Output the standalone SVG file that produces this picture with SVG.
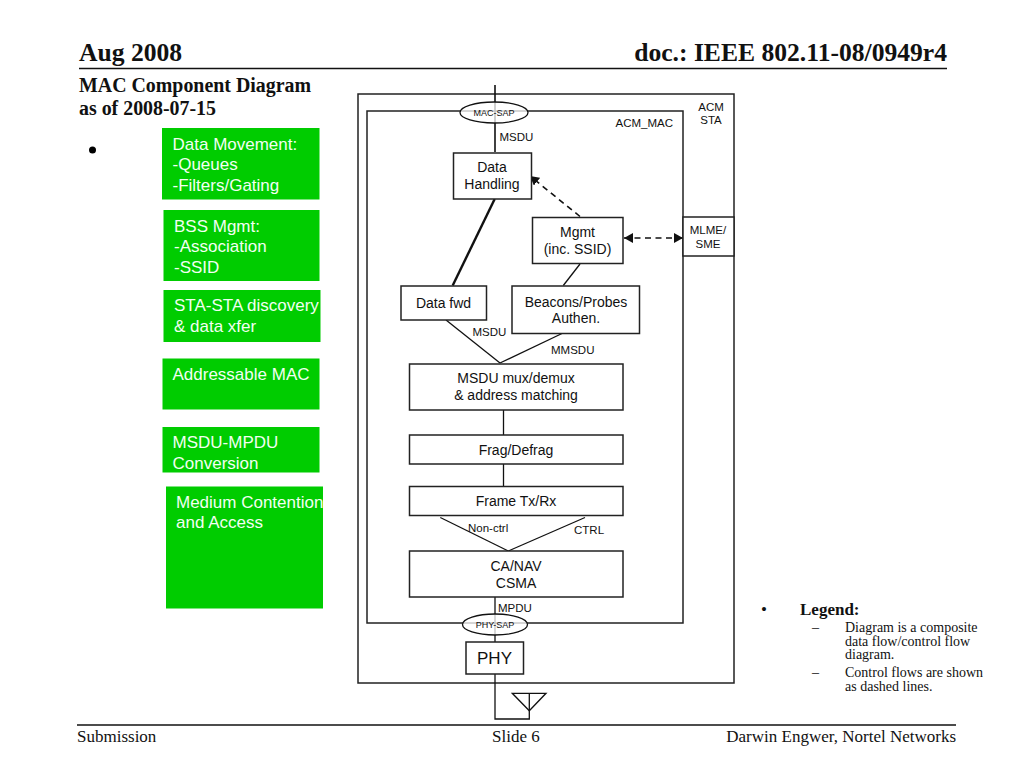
<svg xmlns="http://www.w3.org/2000/svg" width="1024" height="768" viewBox="0 0 1024 768">
<style>
text{font-family:"Liberation Sans",Arial,sans-serif;fill:#111}
.s{font-family:"Liberation Serif","Times New Roman",serif}
.b{font-weight:bold}
.box{fill:#fff;stroke:#222;stroke-width:1.5}
.frame{fill:none;stroke:#222;stroke-width:1.5}
.g{fill:#00cc00}
.gt{fill:#f2fff2;font-size:17px}
.m{text-anchor:middle;font-size:14px}
.l{font-size:11.5px}
.ln{fill:none;stroke:#111;stroke-width:1.3}
.d{stroke-dasharray:6 4.5;stroke-width:1.6}
.sap{fill:#fff;fill-opacity:.75;stroke:#111;stroke-width:1.3}
</style>
<defs>
<marker id="a" markerWidth="10" markerHeight="10" refX="9" refY="5" orient="auto-start-reverse" markerUnits="userSpaceOnUse"><path d="M0 0L9 5L0 10Z" fill="#111"/></marker>
</defs>
<rect width="1024" height="768" fill="#fff"/>
<g id="header">
<text class="s b" x="79" y="61" font-size="25.600">Aug 2008</text>
<text class="s b" x="947" y="61" font-size="25.600" text-anchor="end">doc.: IEEE 802.11-08/0949r4</text>
<line x1="79" y1="68.500" x2="947" y2="68.500" stroke="#111" stroke-width="1.500"/>
<text class="s b" x="79" y="92" font-size="19.900">MAC Component Diagram</text>
<text class="s b" x="79" y="115" font-size="19.900">as of 2008-07-15</text>
<circle cx="92.500" cy="150" r="3.500" fill="#000"/>
</g>
<g id="green-data"><rect class="g" x="162" y="128" width="157.500" height="71.500"/><text class="gt" x="172.500" y="150">Data Movement:</text><text class="gt" x="172.500" y="170">-Queues</text><text class="gt" x="172.500" y="190.500">-Filters/Gating</text></g>
<g id="green-bss"><rect class="g" x="163.500" y="210" width="156" height="71"/><text class="gt" x="174" y="232">BSS Mgmt:</text><text class="gt" x="174" y="252">-Association</text><text class="gt" x="174" y="272.500">-SSID</text></g>
<g id="green-sta"><rect class="g" x="163.500" y="290" width="157" height="52"/><text class="gt" x="174" y="311">STA-STA discovery</text><text class="gt" x="174" y="332">&amp; data xfer</text></g>
<g id="green-addr"><rect class="g" x="162.500" y="358.500" width="157" height="51"/><text class="gt" x="172.500" y="380">Addressable MAC</text></g>
<g id="green-msdu"><rect class="g" x="162.500" y="427" width="157" height="45.500"/><text class="gt" x="172.500" y="448">MSDU-MPDU</text><text class="gt" x="172.500" y="468.500">Conversion</text></g>
<g id="green-medium"><rect class="g" x="166" y="486.500" width="157" height="122"/><text class="gt" x="176" y="507.500">Medium Contention</text><text class="gt" x="176" y="528">and Access</text></g>
<g id="acm-sta"><rect class="frame" x="358" y="94" width="376" height="589"/><text class="l" x="711" y="111" text-anchor="middle">ACM</text><text class="l" x="711" y="124" text-anchor="middle">STA</text></g>
<g id="acm-mac"><rect class="frame" x="367" y="111" width="316" height="512"/><text class="l" x="615.500" y="127">ACM_MAC</text></g>
<g id="connectors">
<line class="ln" x1="495" y1="85" x2="495" y2="152" style="stroke-width:1.600"/>
<line class="ln" x1="494.700" y1="199" x2="452.700" y2="285.500" style="stroke-width:2.400"/>
<line class="ln d" x1="580" y1="216.500" x2="530" y2="176" marker-end="url(#a)"/>
<line class="ln d" x1="624" y1="238" x2="683" y2="238" marker-start="url(#a)" marker-end="url(#a)"/>
<line class="ln" x1="580" y1="264" x2="563.300" y2="285.500"/>
<line class="ln" x1="446" y1="320" x2="500" y2="363"/>
<line class="ln" x1="562" y1="333.500" x2="500" y2="363"/>
<line class="ln" x1="503.500" y1="410" x2="503.500" y2="435"/>
<line class="ln" x1="503.500" y1="464" x2="503.500" y2="486"/>
<line class="ln" x1="440.300" y1="517.500" x2="508.300" y2="551"/>
<line class="ln" x1="585" y1="517.500" x2="508.300" y2="551"/>
<line class="ln" x1="495" y1="597" x2="495" y2="642"/>
<path class="ln" d="M495 674V719H529.300V693.300"/>
<path class="ln" d="M512.300 693.300H546L529.300 710.700Z"/>
</g>
<g id="mac-sap"><ellipse class="sap" cx="494" cy="112.500" rx="34" ry="10.500"/><text x="494" y="116" font-size="9" text-anchor="middle">MAC-SAP</text></g>
<g id="phy-sap"><ellipse class="sap" cx="495" cy="624.500" rx="32.500" ry="10.500"/><text x="495" y="628" font-size="9" text-anchor="middle">PHY-SAP</text></g>
<g id="data-handling"><rect class="box" x="453.500" y="153" width="78" height="46"/><text class="m" x="492" y="172">Data</text><text class="m" x="492" y="189">Handling</text></g>
<g id="mgmt"><rect class="box" x="532.500" y="217.500" width="90.500" height="46"/><text class="m" x="577.500" y="237">Mgmt</text><text class="m" x="577.500" y="254">(inc. SSID)</text></g>
<g id="mlme"><rect class="box" x="683" y="217" width="51" height="39"/><text class="l" x="708" y="234" text-anchor="middle">MLME/</text><text class="l" x="708" y="248" text-anchor="middle">SME</text></g>
<g id="data-fwd"><rect class="box" x="401" y="286" width="85.500" height="34"/><text class="m" x="443.500" y="308">Data fwd</text></g>
<g id="beacons"><rect class="box" x="512" y="286" width="127.500" height="47.500"/><text class="m" x="576" y="307">Beacons/Probes</text><text class="m" x="576" y="323">Authen.</text></g>
<g id="mux"><rect class="box" x="409.500" y="364" width="213.500" height="46"/><text class="m" x="516" y="383">MSDU mux/demux</text><text class="m" x="516" y="400">&amp; address matching</text></g>
<g id="frag"><rect class="box" x="409.500" y="435" width="213.500" height="29"/><text class="m" x="516" y="455">Frag/Defrag</text></g>
<g id="frame"><rect class="box" x="409.500" y="486.500" width="213.500" height="29"/><text class="m" x="516" y="506">Frame Tx/Rx</text></g>
<g id="csma"><rect class="box" x="409.500" y="551" width="213.500" height="46"/><text class="m" x="516" y="571">CA/NAV</text><text class="m" x="516" y="588">CSMA</text></g>
<g id="phy"><rect class="box" x="466" y="642" width="57.500" height="32"/><text x="494.500" y="664" font-size="17" text-anchor="middle">PHY</text></g>
<g id="labels">
<text class="l" x="499.500" y="141">MSDU</text>
<text class="l" x="472.500" y="336">MSDU</text>
<text class="l" x="551" y="354">MMSDU</text>
<text class="l" x="468" y="532">Non-ctrl</text>
<text class="l" x="574" y="534">CTRL</text>
<text class="l" x="498" y="612">MPDU</text>
</g>
<g id="legend">
<text class="s" x="761" y="615" font-size="17">•</text>
<text class="s b" x="800" y="615" font-size="17">Legend:</text>
<text class="s" x="812" y="632" font-size="14">–</text>
<text class="s" x="845" y="632" font-size="14">Diagram is a composite</text>
<text class="s" x="845" y="646" font-size="14">data flow/control flow</text>
<text class="s" x="845" y="659" font-size="14">diagram.</text>
<text class="s" x="812" y="677" font-size="14">–</text>
<text class="s" x="845" y="677" font-size="14">Control flows are shown</text>
<text class="s" x="845" y="691" font-size="14">as dashed lines.</text>
</g>
<g id="footer">
<line x1="77" y1="725" x2="956" y2="725" stroke="#111" stroke-width="1.500"/>
<text class="s" x="77" y="742" font-size="17">Submission</text>
<text class="s" x="492" y="742" font-size="17">Slide 6</text>
<text class="s" x="956" y="742" font-size="17" text-anchor="end">Darwin Engwer, Nortel Networks</text>
</g>
</svg>
